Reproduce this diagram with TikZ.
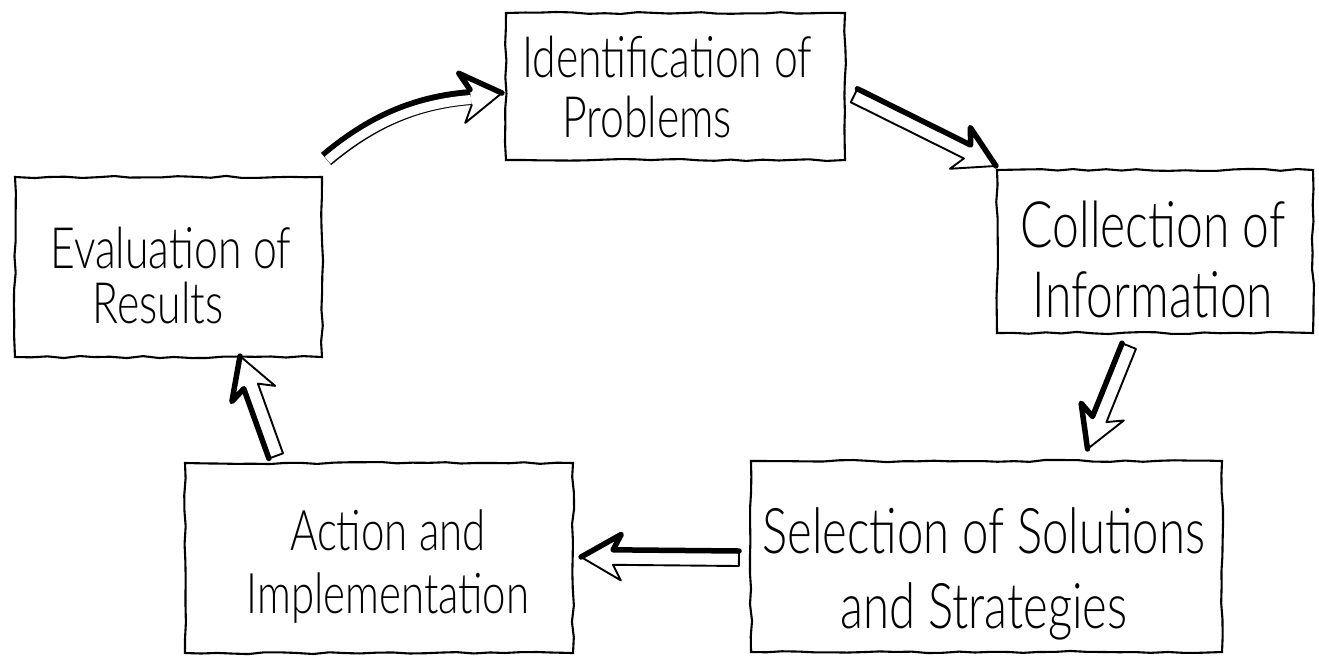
\documentclass[tikz,border=0pt]{standalone}
\usepackage{fontspec}
\newfontfamily\hand{Lato Light}[FakeStretch=0.75]
\usetikzlibrary{decorations.pathmorphing}

% block arrow geometry (pt): shaft half width, head base, barb offset, barb half width
\newcommand\arSw{7.5}
\newcommand\arHl{32}
\newcommand\arBb{40}
\newcommand\arHw{23}

\tikzset{
  stage/.style={draw, line width=2.1pt, decorate,
    decoration={random steps, segment length=16pt, amplitude=1.1pt}, inner sep=0pt},
  stagetext/.style={align=center, inner sep=0pt, text=black},
  arrowline/.style={draw=black, line width=1.9pt, line join=round},
  arrowheavy/.style={draw=black, line width=5.5pt, line join=round, line cap=round},
}

% direction and length from #1 to #2, stored in \arAng and \arLen
\newcommand\arMeasure[2]{%
  \pgfpointdiff{\pgfpointanchor{#1}{center}}{\pgfpointanchor{#2}{center}}%
  \pgfgetlastxy\arDx\arDy
  \pgfmathsetmacro\arAng{atan2(\arDy,\arDx)}%
  \pgfmathsetmacro\arLen{veclen(\arDx,\arDy)}%
}

% hollow straight block arrow from #2 to #3, heavy outline on side #1
\newcommand\blockarrow[3][1pt]{%
  \arMeasure{#2}{#3}%
  \begin{scope}[shift={(#3)}, rotate=\arAng, x=1pt, y=#1]
    \draw[arrowline, fill=white] (-\arLen,-\arSw) -- (-\arHl,-\arSw) -- (-\arBb,-\arHw) -- (0,0)
      -- (-\arBb,\arHw) -- (-\arHl,\arSw) -- (-\arLen,\arSw) -- cycle;
    \draw[arrowheavy] (-\arLen,\arSw) -- (-\arHl,\arSw) -- (-\arBb,\arHw) -- (0,0);
  \end{scope}}

% hollow head only, base at #2, tip at #3
\newcommand\blockhead[3][1pt]{%
  \arMeasure{#2}{#3}%
  \pgfmathsetmacro\arBack{\arLen+9}%
  \begin{scope}[shift={(#3)}, rotate=\arAng, x=1pt, y=#1]
    \fill[white] (-\arLen,-7.5) -- (-\arBack,-25) -- (0,0) -- (-\arBack,25) -- (-\arLen,7.5) -- cycle;
    \draw[arrowline] (-\arLen,-7.5) -- (-\arBack,-25) -- (0,0) -- (-\arBack,25) -- (-\arLen,7.5);
    \draw[arrowheavy] (0,0) -- (-\arBack,25) -- (-\arLen,7.5);
  \end{scope}}

\begin{document}
\begin{tikzpicture}[x=1pt, y=-1pt]
\pgfmathsetseed{11}
\fill[white] (0,0) rectangle (1319,657);
\useasboundingbox (0,0) rectangle (1319,657);

% stage boxes
\node[stage, minimum width=339pt, minimum height=147pt] (ident) at (675.5,86.5) {};
\node[stage, minimum width=307pt, minimum height=180pt] (eval)  at (168.5,267) {};
\node[stage, minimum width=316pt, minimum height=163pt] (coll)  at (1155,251.5) {};
\node[stage, minimum width=471pt, minimum height=191pt] (sel)   at (986.5,556.5) {};
\node[stage, minimum width=388pt, minimum height=190pt] (act)   at (379,558) {};

% stage captions
\node[stagetext, font=\hand\fontsize{57}{60}\selectfont] (ident-text) at (667,87)
  {Identification of\\Problems\hspace*{40pt}};
\node[stagetext, font=\hand\fontsize{57}{55}\selectfont] (eval-text) at (171,275)
  {Evaluation of\\Results\hspace*{26pt}};
\node[stagetext, font=\hand\fontsize{64}{70}\selectfont] (coll-text) at (1153,259)
  {Collection of\\Information};
\node[stagetext, font=\hand\fontsize{63}{75}\selectfont] (sel-text) at (984,574)
  {Selection of Solutions\\and Strategies};
\node[stagetext, font=\hand\fontsize{56}{63}\selectfont] (act-text) at (388,567)
  {Action and\\Implementation};

% arrow end points
\coordinate (a1tail) at ([shift={(3,-17)}]eval.north east);
\coordinate (a1base) at ([shift={(-34,10.5)}]ident.west);
\coordinate (a1tip)  at ([shift={(-3,6.5)}]ident.west);
\coordinate (a2tail) at ([shift={(8,9)}]ident.east);
\coordinate (a2tip)  at ([shift={(0,-3)}]coll.north west);
\coordinate (a3tail) at ([shift={(-26,12)}]coll.south);
\coordinate (a3tip)  at ([shift={(101,-11)}]sel.north);
\coordinate (a4tail) at ([shift={(-11,2)}]sel.west);
\coordinate (a4tip)  at ([shift={(7,-1)}]act.east);
\coordinate (a5tail) at ([shift={(92,-6)}]act.north west);
\coordinate (a5tip)  at ([shift={(71.5,-2)}]eval.south);

% curved arrow: evaluation -> identification
\draw[line width=16pt, line cap=butt] (a1tail) .. controls +(50,-42) and +(-50,4) .. (a1base);
\draw[white, line width=9pt, line cap=butt, shorten <=2pt]
  ([yshift=-2.5pt]a1tail) .. controls +(50,-42) and +(-50,4) .. ([yshift=-2.5pt]a1base);
\blockhead[1pt]{a1base}{a1tip}

% straight arrows
\blockarrow[1pt]{a2tail}{a2tip}
\blockarrow[-1pt]{a3tail}{a3tip}
\blockarrow[-1pt]{a4tail}{a4tip}
\blockarrow[1pt]{a5tail}{a5tip}
\end{tikzpicture}
\end{document}
